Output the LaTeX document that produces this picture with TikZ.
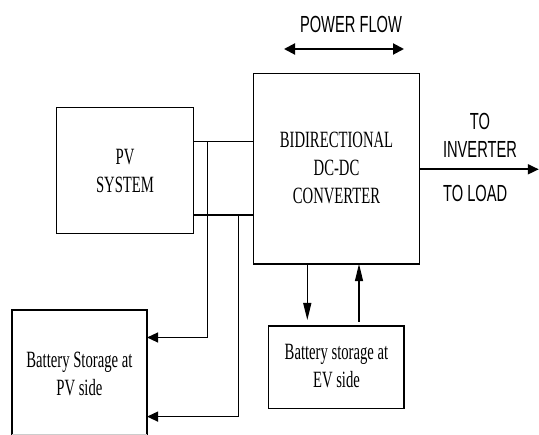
\documentclass[tikz,border=0pt]{standalone}
\usepackage{fontspec}
\usetikzlibrary{arrows.meta,calc}
\newfontfamily\serifn{Liberation Serif}[FakeStretch=0.63]
\newfontfamily\sansn{Liberation Sans}[FakeStretch=0.63]
\begin{document}
\begin{tikzpicture}[x=1pt,y=-1pt,
  blk/.style={draw,line width=1.5pt,inner sep=0pt,outer sep=0pt},
  stxt/.style={inner sep=0pt,align=center,font=\serifn\fontsize{23.3}{28}\selectfont},
  atxt/.style={inner sep=0pt,align=center,font=\sansn\fontsize{23.3}{28}\selectfont},
  wire/.style={line width=1.3pt},
  tipA/.style={-{Triangle[length=11pt,width=10pt]}},
  tipV/.style={-{Triangle[length=17pt,width=8pt]}},
  twoway/.style={{Triangle[length=11pt,width=11pt]}-{Triangle[length=11pt,width=11pt]}}
]
\useasboundingbox (0,0) rectangle (539,435);
% boxes
\node[blk,minimum width=136.6pt,minimum height=126pt] (pv) at (125,170.3) {};
\node[stxt] (pvt) at (125,171.3) {PV\\SYSTEM};
\node[blk,minimum width=166pt,minimum height=190.7pt] (conv) at (336.3,168.7) {};
\node[stxt] (convt) at (336.5,168.4) {BIDIRECTIONAL\\DC-DC\\CONVERTER};
\node[blk,minimum width=135.7pt,minimum height=82.3pt] (ev) at (336.2,367.2) {};
\node[stxt] (evt) at (336.5,366.3) {Battery storage at\\EV side};
\node[inner sep=0pt,outer sep=0pt,minimum width=135.3pt,minimum height=124.5pt] (pvb) at (79.4,372.3) {};
\draw[line width=1.5pt] (pvb.south west) -- (pvb.north west) -- (pvb.north east) -- (pvb.south east);
\draw[gray!40,line width=0.8pt] (pvb.south west) -- (pvb.south east);
\node[stxt] (pvbt) at (79.4,373.7) {Battery Storage at\\PV side};
% labels
\node[atxt] (pf) at (351,24.2) {POWER FLOW};
\node[atxt] (toinv) at (480,135.2) {TO\\INVERTER};
\node[atxt] (toload) at (475.2,193.7) {TO LOAD};
% coordinates
\coordinate (j1) at (207.7,141.7);
\coordinate (j2) at (238.5,215);
\coordinate (b1) at (207.7,337.5);
\coordinate (b2) at (238.5,416.6);
\coordinate (d1) at (307.3,320);
\coordinate (u1) at (359,321.7);
\coordinate (o1) at (538.8,169.3);
\coordinate (pf1) at (284,49);
\coordinate (pf2) at (404,49);
% connectors
\draw[line width=1.5pt] (pv.east |- j1) -- (conv.west |- j1);
\draw[line width=1.5pt] (pv.east |- j2) -- (conv.west |- j2);
\draw[wire,tipA] (j1) -- (b1) -- (pvb.east |- b1);
\draw[wire,tipA] (j2) -- (b2) -- (pvb.east |- b2);
\draw[wire,tipV] (conv.south -| d1) -- (d1);
\draw[wire,tipV] (u1) -- (conv.south -| u1);
\draw[line width=1.8pt,tipA] (conv.east |- o1) -- (o1);
\draw[line width=2pt,twoway] (pf1) -- (pf2);
\end{tikzpicture}
\end{document}
